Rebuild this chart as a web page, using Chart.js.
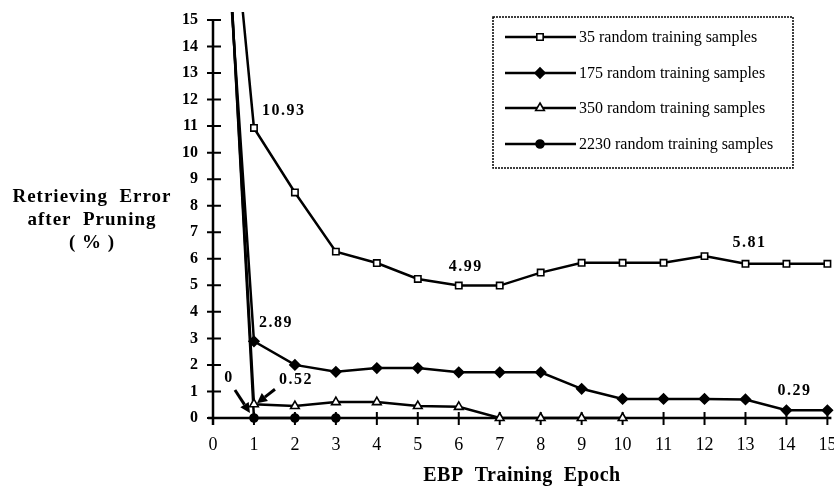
<!DOCTYPE html>
<html>
<head>
<meta charset="utf-8">
<script src="https://cdn.jsdelivr.net/npm/chart.js@4/dist/chart.umd.min.js"></script>
<style>
  html, body { margin: 0; padding: 0; background: #fff; }
  #wrap { width: 834px; height: 486px; position: relative; }
</style>
</head>
<body>
<div id="wrap"><canvas id="chart"></canvas></div>
<script>
"use strict";

// epochs on the x axis
var epochs = [0, 1, 2, 3, 4, 5, 6, 7, 8, 9, 10, 11, 12, 13, 14, 15];
// error values (%); epoch 0 runs off the top of the plot
var err35   = [27, 10.93, 8.5, 6.27, 5.84, 5.24, 4.99, 4.99, 5.48, 5.85, 5.85, 5.85, 6.1, 5.81, 5.81, 5.81];
var err175  = [26, 2.89, 2.0, 1.74, 1.88, 1.88, 1.72, 1.72, 1.72, 1.1, 0.72, 0.72, 0.72, 0.7, 0.29, 0.29];
var err350  = [28.5, 0.52, 0.45, 0.6, 0.6, 0.45, 0.42, 0, 0, 0, 0, null, null, null, null, null];
var err2230 = [29, 0, 0, 0, null, null, null, null, null, null, null, null, null, null, null, null];
var seriesLabels = ['35 random training samples', '175 random training samples',
                    '350 random training samples', '2230 random training samples'];
var yTickValues = [0, 1, 2, 3, 4, 5, 6, 7, 8, 9, 10, 11, 12, 13, 14, 15];

var Y_TOP = 15;
var SERIF = '"Liberation Serif", "Times New Roman", serif';

function toPoints(arr) {
  return epochs.map(function (e, i) { return { x: e, y: arr[i] }; });
}

function hideAboveTop(r) {
  return function (ctx) {
    return ctx.parsed && ctx.parsed.y > Y_TOP ? 0 : r;
  };
}

var styles = [
  { pointStyle: 'rect',     radius: 4.5, fill: '#fff' },
  { pointStyle: 'rectRot',  radius: 5,   fill: '#000' },
  { pointStyle: 'triangle', radius: 5,   fill: '#fff' },
  { pointStyle: 'circle',   radius: 4,   fill: '#000' }
];

var allSeries = [err35, err175, err350, err2230];

var datasets = allSeries.map(function (arr, i) {
  return {
    label: seriesLabels[i],
    data: toPoints(arr),
    borderColor: '#000',
    borderWidth: 2.5,
    backgroundColor: styles[i].fill,
    pointStyle: styles[i].pointStyle,
    pointRadius: hideAboveTop(styles[i].radius),
    pointBorderColor: '#000',
    pointBackgroundColor: styles[i].fill,
    pointBorderWidth: 1.6,
    tension: 0,
    spanGaps: false,
    clip: { left: 20, top: 0, right: 10, bottom: 10 }
  };
});

// value labels: [text, series, epoch index, dx, dy, align]
var notes = [
  ['10.93', 0, 1, 8, -17, 'left'],
  ['4.99', 0, 6, 7, -19, 'center'],
  ['5.81', 0, 13, 4, -21, 'center'],
  ['2.89', 1, 1, 5, -18, 'left'],
  ['0.29', 1, 14, 8, -19, 'center'],
  ['0.52', 2, 1, 42, -24, 'center'],
  ['0', 3, 1, -25, -40, 'center']
];

function arrow(ctx, x1, y1, x2, y2) {
  var ang = Math.atan2(y2 - y1, x2 - x1);
  var hl = 10, hw = 5;
  var bx = x2 - Math.cos(ang) * hl, by = y2 - Math.sin(ang) * hl;
  ctx.beginPath();
  ctx.moveTo(x1, y1);
  ctx.lineTo(bx, by);
  ctx.lineWidth = 3;
  ctx.stroke();
  ctx.beginPath();
  ctx.moveTo(x2, y2);
  ctx.lineTo(bx + Math.sin(ang) * hw, by - Math.cos(ang) * hw);
  ctx.lineTo(bx - Math.sin(ang) * hw, by + Math.cos(ang) * hw);
  ctx.closePath();
  ctx.fill();
}

var decor = {
  id: 'decor',
  beforeDatasetsDraw: function (chart) {
    var ctx = chart.ctx, xs = chart.scales.x, ys = chart.scales.y;
    var x0 = xs.getPixelForValue(0), y0 = ys.getPixelForValue(0);
    var yTop = ys.getPixelForValue(Y_TOP), xEnd = xs.getPixelForValue(15);
    ctx.save();
    ctx.strokeStyle = '#000';
    ctx.lineWidth = 2.5;
    ctx.beginPath();
    ctx.moveTo(x0, yTop);
    ctx.lineTo(x0, y0 + 7);
    ctx.moveTo(x0 - 5, y0);
    ctx.lineTo(xEnd + 4, y0);
    ctx.stroke();
    ctx.lineWidth = 2;
    ctx.beginPath();
    yTickValues.forEach(function (v) {
      var py = ys.getPixelForValue(v);
      ctx.moveTo(x0 - 6, py);
      ctx.lineTo(x0 + 8, py);
    });
    epochs.forEach(function (e) {
      if (e === 0) return;
      var px = xs.getPixelForValue(e);
      ctx.moveTo(px, y0 - 6);
      ctx.lineTo(px, y0 + 7);
    });
    ctx.stroke();
    ctx.restore();
  },
  afterDraw: function (chart) {
    var ctx = chart.ctx, xs = chart.scales.x, ys = chart.scales.y;
    ctx.save();
    ctx.fillStyle = '#000';
    ctx.strokeStyle = '#000';

    // value labels
    ctx.font = 'bold 16px ' + SERIF;
    ctx.letterSpacing = '1.5px';
    ctx.textBaseline = 'middle';
    notes.forEach(function (n) {
      var arr = allSeries[n[1]];
      var px = xs.getPixelForValue(epochs[n[2]]);
      var py = ys.getPixelForValue(arr[n[2]]);
      ctx.textAlign = n[5];
      ctx.fillText(n[0], px + n[3], py + n[4]);
    });
    ctx.letterSpacing = '0px';

    // arrows to the points at epoch 1
    var p1x = xs.getPixelForValue(1);
    var pz = ys.getPixelForValue(err2230[1]);
    arrow(ctx, p1x - 19, pz - 28, p1x - 4, pz - 5);
    var p52 = ys.getPixelForValue(err350[1]);
    arrow(ctx, p1x + 21, p52 - 15, p1x + 3, p52 - 1);

    // legend box
    ctx.lineWidth = 1.5;
    ctx.setLineDash([2, 1]);
    ctx.strokeRect(493, 17, 300, 151);
    ctx.setLineDash([]);
    var rows = [37, 73, 108, 144];
    ctx.font = '16px ' + SERIF;
    ctx.textAlign = 'left';
    rows.forEach(function (ry, i) {
      ctx.lineWidth = 2.5;
      ctx.beginPath();
      ctx.moveTo(505, ry);
      ctx.lineTo(576, ry);
      ctx.stroke();
      ctx.fillStyle = styles[i].fill;
      ctx.lineWidth = 1.6;
      Chart.helpers.drawPoint(ctx, { pointStyle: styles[i].pointStyle, radius: styles[i].radius, borderWidth: 1.6, rotation: 0 }, 540, ry);
      ctx.fillStyle = '#000';
      ctx.fillText(seriesLabels[i], 579, ry + 1);
    });

    // axis titles
    ctx.font = 'bold 19px ' + SERIF;
    ctx.letterSpacing = '1px';
    ctx.textAlign = 'center';
    ctx.fillText('Retrieving  Error', 92, 197);
    ctx.fillText('after  Pruning', 92, 220);
    ctx.fillText('( % )', 92, 243);
    ctx.font = 'bold 20px ' + SERIF;
    ctx.letterSpacing = '0.5px';
    ctx.fillText('EBP  Training  Epoch', 522, 476);
    ctx.restore();
  }
};

new Chart(document.getElementById('chart').getContext('2d'), {
  type: 'line',
  data: { datasets: datasets },
  options: {
    responsive: true,
    maintainAspectRatio: false,
    animation: false,
    layout: { padding: { left: 0, right: 3, top: 12, bottom: 0 } },
    plugins: {
      legend: { display: false },
      tooltip: { enabled: false }
    },
    scales: {
      x: {
        type: 'linear',
        min: 0,
        max: 15,
        afterFit: function (s) {
          s.height = 68;
          s.paddingLeft = 0;
          s.paddingRight = 0;
        },
        grid: { display: false, drawTicks: false },
        border: { display: false },
        ticks: {
          stepSize: 1,
          padding: 16,
          color: '#000',
          font: { family: SERIF, size: 18 }
        }
      },
      y: {
        min: 0,
        max: 15.3,
        afterFit: function (s) {
          s.width = 213;
          s.paddingTop = 0;
          s.paddingBottom = 0;
        },
        afterBuildTicks: function (s) {
          s.ticks = yTickValues.map(function (v) { return { value: v }; });
        },
        grid: { display: false, drawTicks: false },
        border: { display: false },
        ticks: {
          padding: 15,
          color: '#000',
          font: { family: SERIF, size: 16, weight: 'bold' }
        }
      }
    }
  },
  plugins: [decor]
});
</script>
</body>
</html>
